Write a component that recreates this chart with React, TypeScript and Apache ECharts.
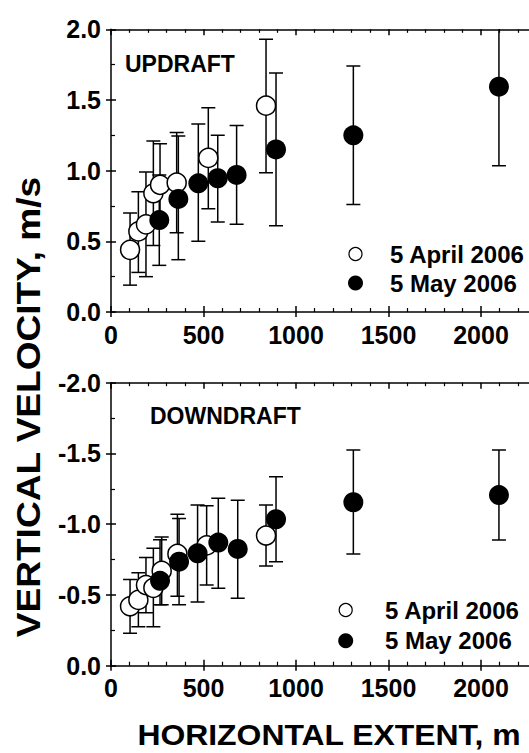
import React, { useEffect, useRef } from "react";
import * as echarts from "echarts";

// ---------- DATA ----------
// UPDRAFT panel
const aprUpX = [103, 148, 189, 229, 265, 355, 526, 838];
const aprUpY = [0.44, 0.57, 0.62, 0.84, 0.9, 0.915, 1.09, 1.46];
const aprUpHi = [0.7, 0.85, 0.99, 1.21, 1.19, 1.27, 1.445, 1.93];
const aprUpLo = [0.19, 0.28, 0.25, 0.47, 0.61, 0.56, 0.73, 0.985];

const mayUpX = [261, 364, 472, 577, 679, 892, 1310, 2097];
const mayUpY = [0.65, 0.8, 0.91, 0.946, 0.97, 1.15, 1.25, 1.594];
const mayUpHi = [0.97, 1.245, 1.33, 1.25, 1.32, 1.69, 1.74, 2.15];
const mayUpLo = [0.33, 0.37, 0.5, 0.637, 0.62, 0.61, 0.76, 1.035];

// DOWNDRAFT panel
const aprDnX = [103, 148, 189, 229, 274, 359, 517, 838];
const aprDnY = [-0.42, -0.465, -0.57, -0.55, -0.67, -0.79, -0.85, -0.92];
const aprDnHi = [-0.61, -0.657, -0.765, -0.83, -0.91, -1.07, -1.13, -1.136];
const aprDnLo = [-0.23, -0.276, -0.375, -0.276, -0.43, -0.49, -0.57, -0.705];

const mayDnX = [265, 368, 468, 580, 685, 892, 1310, 2097];
const mayDnY = [-0.6, -0.735, -0.794, -0.87, -0.825, -1.035, -1.155, -1.206];
const mayDnHi = [-0.89, -1.04, -1.135, -1.183, -1.17, -1.336, -1.524, -1.524];
const mayDnLo = [-0.43, -0.43, -0.45, -0.547, -0.476, -0.735, -0.79, -0.888];

const legendLabels = ["5 April 2006", "5 May 2006"];
const panelLabels = ["UPDRAFT", "DOWNDRAFT"];
const xTitle = "HORIZONTAL EXTENT, m";
const yTitle = "VERTICAL VELOCITY, m/s";

// ---------- HELPERS ----------
const FONT = "'Liberation Sans', Arial, Helvetica, sans-serif";
const BLACK = "#000";

const pts = (xs: number[], ys: number[]) => xs.map((x, i) => [x, ys[i]]);
const bars = (xs: number[], lo: number[], hi: number[]) =>
  xs.map((x, i) => [x, lo[i], hi[i]]);

function errRender(params: any, api: any) {
  const x = api.value(0);
  const lo = api.coord([x, api.value(1)]);
  const hi = api.coord([x, api.value(2)]);
  const cap = 7;
  const st = { stroke: BLACK, lineWidth: 1.5 };
  return {
    type: "group",
    children: [
      { type: "line", shape: { x1: lo[0], y1: lo[1], x2: hi[0], y2: hi[1] }, style: st },
      { type: "line", shape: { x1: lo[0] - cap, y1: lo[1], x2: lo[0] + cap, y2: lo[1] }, style: st },
      { type: "line", shape: { x1: hi[0] - cap, y1: hi[1], x2: hi[0] + cap, y2: hi[1] }, style: st },
    ],
  };
}

function xAxes(g: number) {
  const common = { gridIndex: g, type: "value", min: 0, max: 2300, interval: 500, splitLine: { show: false } };
  return [
    {
      ...common,
      position: "bottom",
      axisLine: { show: true, onZero: false, lineStyle: { color: BLACK, width: 1.5 } },
      axisTick: { show: true, inside: false, length: 5, lineStyle: { color: BLACK, width: 1.5 } },
      axisLabel: {
        show: true,
        color: BLACK,
        fontSize: 25,
        fontWeight: "bold",
        fontFamily: FONT,
        margin: 10,
        formatter: (v: number) => (v <= 2000 ? String(v) : ""),
      },
    },
    {
      ...common,
      position: "bottom",
      axisLine: { show: false, onZero: false },
      axisTick: { show: true, inside: true, length: 6, lineStyle: { color: BLACK, width: 1.5 } },
      minorTick: { show: true, splitNumber: 5, length: 4, lineStyle: { color: BLACK, width: 1.2 } },
      axisLabel: { show: false },
    },
    {
      ...common,
      position: "top",
      axisLine: { show: true, onZero: false, lineStyle: { color: BLACK, width: 1.5 } },
      axisTick: { show: true, inside: true, length: 6, lineStyle: { color: BLACK, width: 1.5 } },
      minorTick: { show: true, splitNumber: 5, length: 3.5, lineStyle: { color: BLACK, width: 1.2 } },
      axisLabel: { show: false },
    },
  ];
}

function yAxes(g: number, down: boolean) {
  const common = {
    gridIndex: g,
    type: "value",
    min: down ? -2 : 0,
    max: down ? 0 : 2,
    interval: 0.5,
    inverse: down,
    splitLine: { show: false },
  };
  return [
    {
      ...common,
      position: "left",
      axisLine: { show: true, onZero: false, lineStyle: { color: BLACK, width: 1.5 } },
      axisTick: { show: true, inside: false, length: 5, lineStyle: { color: BLACK, width: 1.5 } },
      axisLabel: {
        show: true,
        color: BLACK,
        fontSize: 25,
        fontWeight: "bold",
        fontFamily: FONT,
        margin: 10,
        formatter: (v: number) => v.toFixed(1),
      },
    },
    {
      ...common,
      position: "left",
      axisLine: { show: false, onZero: false },
      axisTick: { show: true, inside: true, length: 5, lineStyle: { color: BLACK, width: 1.5 } },
      minorTick: { show: true, splitNumber: 2, length: 4, lineStyle: { color: BLACK, width: 1.2 } },
      axisLabel: { show: false },
    },
  ];
}

function panelSeries(
  g: number,
  aprX: number[], aprY: number[], aprLo: number[], aprHi: number[],
  mayX: number[], mayY: number[], mayLo: number[], mayHi: number[]
) {
  const xi = g * 3;
  const yi = g * 2;
  return [
    {
      type: "custom",
      xAxisIndex: xi,
      yAxisIndex: yi,
      renderItem: errRender,
      data: bars(aprX, aprLo, aprHi),
      encode: { x: 0, y: [1, 2] },
      clip: true,
      z: 1,
      silent: true,
    },
    {
      type: "custom",
      xAxisIndex: xi,
      yAxisIndex: yi,
      renderItem: errRender,
      data: bars(mayX, mayLo, mayHi),
      encode: { x: 0, y: [1, 2] },
      clip: true,
      z: 1,
      silent: true,
    },
    {
      type: "scatter",
      name: legendLabels[0],
      xAxisIndex: xi,
      yAxisIndex: yi,
      data: pts(aprX, aprY),
      symbol: "circle",
      symbolSize: 19,
      itemStyle: { color: "#fff", borderColor: BLACK, borderWidth: 1.5, opacity: 1 },
      z: 2,
    },
    {
      type: "scatter",
      name: legendLabels[1],
      xAxisIndex: xi,
      yAxisIndex: yi,
      data: pts(mayX, mayY),
      symbol: "circle",
      symbolSize: 20,
      itemStyle: { color: BLACK, borderColor: BLACK, borderWidth: 0, opacity: 1 },
      z: 3,
    },
  ];
}

function legendGraphic(mx: number, tx: number, y1: number, y2: number) {
  const tStyle = (text: string, y: number) => ({
    type: "text",
    x: tx,
    y,
    style: {
      text,
      fill: BLACK,
      font: `bold 24px ${FONT}`,
      align: "left",
      verticalAlign: "middle",
    },
  });
  return [
    { type: "circle", shape: { cx: mx, cy: y1, r: 6.5 }, style: { fill: "#fff", stroke: BLACK, lineWidth: 1.2 } },
    { type: "circle", shape: { cx: mx, cy: y2, r: 7.5 }, style: { fill: BLACK } },
    tStyle(legendLabels[0], y1),
    tStyle(legendLabels[1], y2),
  ];
}

export default function App() {
  const ref = useRef<HTMLDivElement>(null);

  useEffect(() => {
    if (!ref.current) return;
    const chart = echarts.init(ref.current, null, { renderer: "svg" });
    const option: any = {
      animation: false,
      backgroundColor: "#fff",
      grid: [
        { left: 111, top: 29.3, width: 425.5, height: 282.7 },
        { left: 111, top: 382.7, width: 425.5, height: 283 },
      ],
      xAxis: [...xAxes(0), ...xAxes(1)],
      yAxis: [...yAxes(0, false), ...yAxes(1, true)],
      series: [
        ...panelSeries(0, aprUpX, aprUpY, aprUpLo, aprUpHi, mayUpX, mayUpY, mayUpLo, mayUpHi),
        ...panelSeries(1, aprDnX, aprDnY, aprDnLo, aprDnHi, mayDnX, mayDnY, mayDnLo, mayDnHi),
      ],
      graphic: [
        {
          type: "text",
          x: 125,
          y: 64,
          style: { text: panelLabels[0], fill: BLACK, font: `bold 23px ${FONT}`, align: "left", verticalAlign: "middle" },
        },
        {
          type: "text",
          x: 150,
          y: 415.5,
          style: { text: panelLabels[1], fill: BLACK, font: `bold 23px ${FONT}`, align: "left", verticalAlign: "middle" },
        },
        ...legendGraphic(355.5, 390, 254, 283),
        ...legendGraphic(345.7, 385, 610, 640.7),
        {
          type: "text",
          x: 329,
          y: 735,
          scaleX: 1.1,
          style: { text: xTitle, fill: BLACK, font: `bold 29px ${FONT}`, align: "center", verticalAlign: "middle" },
        },
        {
          type: "text",
          x: 29,
          y: 407,
          rotation: Math.PI / 2,
          scaleX: 1.09,
          style: { text: yTitle, fill: BLACK, font: `bold 34px ${FONT}`, align: "center", verticalAlign: "middle" },
        },
      ],
    };
    chart.setOption(option);
    return () => chart.dispose();
  }, []);

  return (
    <div
      style={{
        position: "absolute",
        left: 0,
        top: 0,
        width: 529,
        height: 753,
        overflow: "hidden",
        background: "#fff",
      }}
    >
      <div ref={ref} style={{ width: 560, height: 753 }} />
    </div>
  );
}
